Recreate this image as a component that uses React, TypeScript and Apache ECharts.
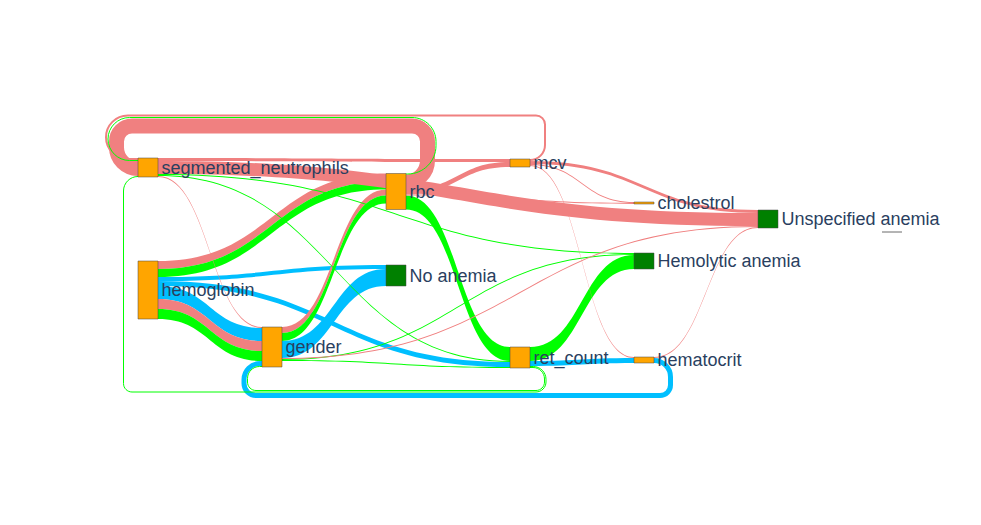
import React, { useEffect, useRef } from "react";
import * as echarts from "echarts";

// ---------------- data ----------------
const NA = "No anemia";
const HA = "Hemolytic anemia";
const UA = "Unspecified anemia";

const nodeNames = [
  "hemoglobin",
  "segmented_neutrophils",
  "gender",
  "rbc",
  "No anemia",
  "mcv",
  "ret_count",
  "cholestrol",
  "Hemolytic anemia",
  "hematocrit",
  "Unspecified anemia",
  "",
];
const classNodes = [NA, HA, UA, ""];

const linkSource = [
  "hemoglobin", "hemoglobin", "hemoglobin", "hemoglobin", "hemoglobin", "hemoglobin", "hemoglobin",
  "segmented_neutrophils", "segmented_neutrophils", "rbc", "rbc", "mcv", "mcv",
  "gender", "gender", "gender", "rbc", "ret_count", "ret_count", "hematocrit",
  "rbc", "ret_count", "ret_count", "segmented_neutrophils", "segmented_neutrophils", "gender", "gender",
  "segmented_neutrophils", "gender", "mcv", "rbc", "mcv", "hematocrit",
];
const linkTarget = [
  "No anemia", "ret_count", "gender", "rbc", "rbc", "gender", "gender",
  "Unspecified anemia", "mcv", "segmented_neutrophils", "mcv", "Unspecified anemia", "segmented_neutrophils",
  "rbc", "rbc", "No anemia", "ret_count", "Hemolytic anemia", "hematocrit", "gender",
  "segmented_neutrophils", "segmented_neutrophils", "gender", "Hemolytic anemia", "ret_count", "Hemolytic anemia", "ret_count",
  "gender", "Unspecified anemia", "cholestrol", "cholestrol", "hematocrit", "Unspecified anemia",
];
const linkValue = [
  4, 5, 13, 8, 8, 10, 10,
  13, 3, 15, 5, 3, 2,
  6, 8, 17, 14, 14, 5, 5,
  1, 1, 1, 1, 1, 1, 1,
  1, 1, 1, 1, 1, 1,
];
const linkClass = [
  NA, NA, NA, UA, HA, UA, HA,
  UA, UA, UA, UA, UA, UA,
  UA, HA, NA, HA, HA, NA, NA,
  HA, HA, HA, HA, HA, HA, HA,
  UA, UA, UA, UA, UA, UA,
];

// ---------------- layout (column + vertical position, like sankey localX/localY) ----------------
const nodeLayout: Record<string, { col: number; y: number }> = {
  hemoglobin: { col: 0, y: 161 },
  segmented_neutrophils: { col: 0, y: 58 },
  gender: { col: 1, y: 227 },
  rbc: { col: 2, y: 73.5 },
  "No anemia": { col: 2, y: 165 },
  mcv: { col: 3, y: 59 },
  ret_count: { col: 3, y: 247 },
  cholestrol: { col: 4, y: 102 },
  "Hemolytic anemia": { col: 4, y: 153 },
  hematocrit: { col: 4, y: 257 },
  "Unspecified anemia": { col: 5, y: 110 },
  "": { col: 6, y: 132 },
};

// ---------------- styles ----------------
const classColor: Record<string, string> = {
  [NA]: "#00BFFF",
  [HA]: "#00FF00",
  [UA]: "#F08080",
};
const FEATURE_COLOR = "#FFA500";
const CLASS_COLOR = "#008000";
const NODE_W = 20;
const LABEL_PAD = 3.5;
const LOOP_GAP_TOP = 24.5;
const LOOP_GAP_BOTTOM = 22;
const LOOP_STACK_GAP = 0.5;
const LOOP_BASE_X = 14;
const LOOP_CORNER = 8;
const KAPPA = 0.5523;
const FONT = '18px "Liberation Sans", Arial, Helvetica, sans-serif';

type Lk = {
  i: number; s: number; t: number; w: number; color: string;
  circ: boolean; side: "top" | "bottom" | null;
  rank: number; oV: number; oS: number; oT: number; sy: number; ty: number; d: string;
};

function f(n: number) {
  return n.toFixed(2);
}

function buildGeometry(api: any) {
  const X = (c: number) => api.coord([c, 0])[0];
  const Y = (y: number) => api.coord([0, y])[1];
  const S = (v: number) => Math.abs(api.size([0, v])[1]);
  const N = nodeNames.length;
  const col = nodeNames.map((n) => nodeLayout[n].col);
  const inSum = new Array(N).fill(0);
  const outSum = new Array(N).fill(0);
  const L: Lk[] = linkSource.map((s, i) => {
    const si = nodeNames.indexOf(s);
    const ti = nodeNames.indexOf(linkTarget[i]);
    outSum[si] += linkValue[i];
    inSum[ti] += linkValue[i];
    return {
      i, s: si, t: ti, w: S(linkValue[i]), color: classColor[linkClass[i]],
      circ: col[ti] <= col[si], side: null, rank: 0, oV: 0, oS: 0, oT: 0, sy: 0, ty: 0, d: "",
    };
  });
  const val = nodeNames.map((_, i) => Math.max(inSum[i], outSum[i]));
  const top = nodeNames.map((n) => Y(nodeLayout[n].y));
  const h = val.map((v) => S(v));
  const cen = top.map((t, i) => t + h[i] / 2);
  const left = col.map((c) => X(c));
  const right = left.map((x) => x + NODE_W);
  const used = nodeNames.map((_, i) => val[i] > 0);
  const minTop = Math.min(...top.filter((_, i) => used[i]));
  const maxBottom = Math.max(...top.map((t, i) => (used[i] ? t + h[i] : -Infinity)));
  const midY = (minTop + maxBottom) / 2;

  L.forEach((l) => {
    if (l.circ) l.side = cen[l.s] > midY ? "bottom" : "top";
  });

  // global stacking of circular links
  (["top", "bottom"] as const).forEach((side) => {
    const arr = L.filter((l) => l.circ && l.side === side).sort(
      (a, b) =>
        col[a.s] - col[b.s] ||
        (col[a.s] - col[a.t]) - (col[b.s] - col[b.t]) ||
        b.w - a.w ||
        a.i - b.i
    );
    let acc = 0;
    arr.forEach((l, k) => {
      l.rank = k;
      l.oV = acc + l.w / 2;
      acc += l.w + LOOP_STACK_GAP;
    });
  });

  // per node side stacking of circular links
  for (let n = 0; n < N; n++) {
    (["top", "bottom"] as const).forEach((side) => {
      let acc = 0;
      L.filter((l) => l.circ && l.s === n && l.side === side)
        .sort((a, b) => a.rank - b.rank)
        .forEach((l) => {
          l.oS = acc + l.w / 2;
          acc += l.w + LOOP_STACK_GAP;
        });
      acc = 0;
      L.filter((l) => l.circ && l.t === n && l.side === side)
        .sort((a, b) => a.rank - b.rank)
        .forEach((l) => {
          l.oT = acc + l.w / 2;
          acc += l.w + LOOP_STACK_GAP;
        });
    });
  }

  // link order inside each node
  for (let n = 0; n < N; n++) {
    const y0 = cen[n];
    const c0 = col[n];
    const cmpOut = (a: Lk, b: Lk) => {
      const ya = cen[a.t], yb = cen[b.t], ca = col[a.t], cb = col[b.t];
      if (ca === cb) return ya - yb || a.i - b.i;
      if (Math.sign(ya - y0) !== Math.sign(yb - y0)) return ya - yb;
      if (ca > cb) return y0 + (ya - y0) * (cb - c0) / (ca - c0) - yb;
      return ya - (y0 + (yb - y0) * (ca - c0) / (cb - c0));
    };
    const cmpIn = (a: Lk, b: Lk) => {
      const ya = cen[a.s], yb = cen[b.s], ca = col[a.s], cb = col[b.s];
      if (ca === cb) return ya - yb || a.i - b.i;
      if (Math.sign(y0 - ya) !== Math.sign(y0 - yb)) return ya - yb;
      if (ca < cb) return ya + (y0 - ya) * (cb - ca) / (c0 - ca) - yb;
      return ya - (yb + (y0 - yb) * (ca - cb) / (c0 - cb));
    };
    const byRankDesc = (a: Lk, b: Lk) => b.rank - a.rank;
    const outs = [
      ...L.filter((l) => l.circ && l.s === n && l.side === "top").sort(byRankDesc),
      ...L.filter((l) => !l.circ && l.s === n).sort(cmpOut),
      ...L.filter((l) => l.circ && l.s === n && l.side === "bottom").sort(byRankDesc),
    ];
    let y = top[n];
    outs.forEach((l) => {
      l.sy = y;
      y += l.w;
    });
    const ins = [
      ...L.filter((l) => l.circ && l.t === n && l.side === "top").sort(byRankDesc),
      ...L.filter((l) => !l.circ && l.t === n).sort(cmpIn),
      ...L.filter((l) => l.circ && l.t === n && l.side === "bottom").sort(byRankDesc),
    ];
    y = top[n];
    ins.forEach((l) => {
      l.ty = y;
      y += l.w;
    });
  }

  // paths
  L.forEach((l) => {
    const x0 = right[l.s];
    const x1 = left[l.t];
    if (!l.circ) {
      const xm = (x0 + x1) / 2;
      const a = l.sy, b = l.ty, w = l.w;
      l.d =
        `M${f(x0)},${f(a)} C${f(xm)},${f(a)} ${f(xm)},${f(b)} ${f(x1)},${f(b)} ` +
        `L${f(x1)},${f(b + w)} C${f(xm)},${f(b + w)} ${f(xm)},${f(a + w)} ${f(x0)},${f(a + w)} Z`;
      return;
    }
    const sg = l.side === "top" ? -1 : 1;
    const ys = l.sy + l.w / 2;
    const yt = l.ty + l.w / 2;
    const yV = l.side === "top" ? minTop - LOOP_GAP_TOP - l.oV : maxBottom + LOOP_GAP_BOTTOM + l.oV;
    const xS = x0 + LOOP_BASE_X + l.oS;
    const xT = x1 - LOOP_BASE_X - l.oT;
    const dyS = Math.abs(yV - ys);
    const dyT = Math.abs(yV - yt);
    const r1 = Math.min(xS - x0, dyS / 2);
    const r2 = Math.min(LOOP_CORNER + l.oS, dyS - r1);
    const r4 = Math.min(x1 - xT, dyT / 2);
    const r3 = Math.min(LOOP_CORNER + l.oT, dyT - r4);
    const k = KAPPA;
    l.d =
      `M${f(x0)},${f(ys)} L${f(xS - r1)},${f(ys)} ` +
      `C${f(xS - r1 + k * r1)},${f(ys)} ${f(xS)},${f(ys + sg * r1 - sg * k * r1)} ${f(xS)},${f(ys + sg * r1)} ` +
      `L${f(xS)},${f(yV - sg * r2)} ` +
      `C${f(xS)},${f(yV - sg * r2 + sg * k * r2)} ${f(xS - r2 + k * r2)},${f(yV)} ${f(xS - r2)},${f(yV)} ` +
      `L${f(xT + r3)},${f(yV)} ` +
      `C${f(xT + r3 - k * r3)},${f(yV)} ${f(xT)},${f(yV - sg * r3 + sg * k * r3)} ${f(xT)},${f(yV - sg * r3)} ` +
      `L${f(xT)},${f(yt + sg * r4)} ` +
      `C${f(xT)},${f(yt + sg * r4 - sg * k * r4)} ${f(xT + r4 - k * r4)},${f(yt)} ${f(xT + r4)},${f(yt)} ` +
      `L${f(x1)},${f(yt)}`;
  });

  return { L, top, h, cen, left, right };
}

function getGeom(params: any, api: any) {
  const ctx = params.context || {};
  if (!ctx.geom) ctx.geom = buildGeometry(api);
  return ctx.geom;
}

function renderLink(params: any, api: any) {
  const g = getGeom(params, api);
  const l: Lk = g.L[params.dataIndex];
  if (l.circ) {
    return {
      type: "path",
      shape: { pathData: l.d },
      style: { fill: "none", stroke: l.color, lineWidth: l.w },
      silent: true,
    };
  }
  return {
    type: "path",
    shape: { pathData: l.d },
    style: { fill: l.color, stroke: "none" },
    silent: true,
  };
}

function renderNode(params: any, api: any) {
  const g = getGeom(params, api);
  const i = params.dataIndex;
  const name = nodeNames[i];
  const fill = classNodes.indexOf(name) >= 0 ? CLASS_COLOR : FEATURE_COLOR;
  const children: any[] = [];
  if (g.h[i] < 0.5) {
    children.push({
      type: "line",
      shape: { x1: g.left[i], y1: g.top[i], x2: g.right[i], y2: g.top[i] },
      style: { stroke: "#444", lineWidth: 0.8 },
    });
  } else {
    children.push({
      type: "rect",
      shape: { x: g.left[i], y: g.top[i], width: NODE_W, height: g.h[i] },
      style: { fill, stroke: "#444", lineWidth: 0.5 },
    });
  }
  if (name) {
    children.push({
      type: "text",
      style: {
        text: name,
        x: g.right[i] + LABEL_PAD,
        y: g.cen[i],
        fill: "#2a3f5f",
        font: FONT,
        align: "left",
        verticalAlign: "middle",
      },
    });
  }
  return { type: "group", children, silent: true };
}

export default function App() {
  const ref = useRef<HTMLDivElement>(null);
  useEffect(() => {
    if (!ref.current) return;
    const chart = echarts.init(ref.current, null, { renderer: "svg" });
    chart.setOption({
      animation: false,
      backgroundColor: "#ffffff",
      grid: { left: 138, right: 99, top: 100, bottom: 0, outerBoundsMode: "none" },
      xAxis: { type: "value", min: 0, max: 6, show: false },
      yAxis: { type: "value", min: 0, max: 425, inverse: true, show: false },
      series: [
        {
          type: "custom",
          name: "links",
          coordinateSystem: "cartesian2d",
          clip: false,
          silent: true,
          z: 1,
          encode: { x: 0, y: 1 },
          data: linkValue.map(() => [0, 0]),
          renderItem: renderLink,
        },
        {
          type: "custom",
          name: "nodes",
          coordinateSystem: "cartesian2d",
          clip: false,
          silent: true,
          z: 2,
          encode: { x: 0, y: 1 },
          data: nodeNames.map(() => [0, 0]),
          renderItem: renderNode,
        },
      ],
    });
    return () => chart.dispose();
  }, []);
  return (
    <div
      ref={ref}
      style={{ position: "fixed", left: 0, top: 0, width: 981, height: 525, background: "#fff" }}
    />
  );
}
